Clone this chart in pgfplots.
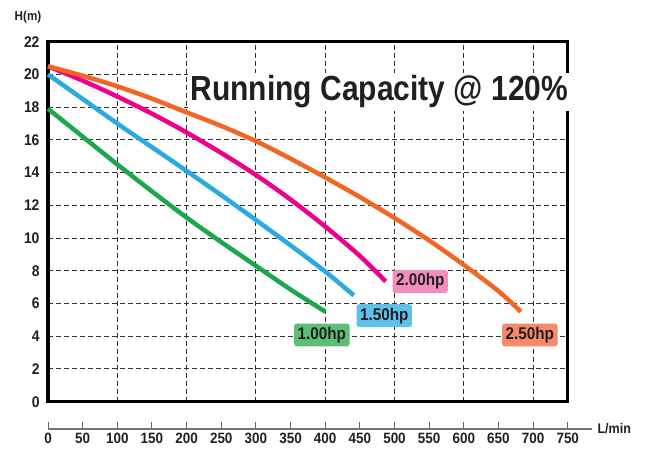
\documentclass[border=0pt]{standalone}
\usepackage{fontspec}
\usepackage{pgfplots}
\pgfplotsset{compat=1.18}
\newfontfamily\condT{Liberation Sans}[FakeStretch=0.86]
\newfontfamily\cond{Liberation Sans}[FakeStretch=0.9]
\newcommand{\cf}[1]{\cond\bfseries\fontsize{#1}{#1}\selectfont}
\newcommand{\tf}[1]{\condT\bfseries\fontsize{#1}{#1}\selectfont}

\definecolor{cgreen}{HTML}{1BA84A}
\definecolor{cblue}{HTML}{29ABE2}
\definecolor{cmag}{HTML}{EC008C}
\definecolor{corange}{HTML}{F26522}
\definecolor{lgreen}{HTML}{5DBE78}
\definecolor{lblue}{HTML}{5DC1EA}
\definecolor{lpink}{HTML}{F28DC0}
\definecolor{lorange}{HTML}{F6896A}
\definecolor{ink}{HTML}{231F20}

\begin{document}
\begin{tikzpicture}
\useasboundingbox (0,0) rectangle (648bp,455bp);

% main chart frame with grid
\begin{axis}[
  at={(48bp,53.3bp)}, anchor=south west,
  scale only axis, width=520bp, height=360bp,
  xmin=0, xmax=750, ymin=0, ymax=22,
  xtick={100,200,...,700}, xticklabels={},
  ytick={0,2,...,22},
  major tick length=0pt,
  grid=major,
  major grid style={dash pattern=on 5bp off 3bp, line width=1bp, color=black!80},
  axis line style={line width=3bp},
  /pgf/number format/assume math mode=true,
  yticklabel style={font=\cf{15.5}, text=ink, xshift=-5bp},
  clip=false,
]
\node[fill=white, inner xsep=3bp, inner ysep=3bp, font=\tf{35}, text=ink] at (axis cs:478,18.93) {Running Capacity @ 120\%};

% 1.00hp
\addplot[smooth, line width=4.5bp, color=cgreen] coordinates {
(0,17.9) (50,16.2) (100,14.5) (150,12.85) (200,11.25) (250,9.75) (300,8.3) (350,6.85) (400,5.5)
};
% 1.50hp
\addplot[smooth, line width=4.5bp, color=cblue] coordinates {
(0,20.0) (50,18.5) (100,17.0) (150,15.55) (200,14.1) (250,12.62) (300,11.1) (350,9.55) (400,7.95) (441,6.5)
};
% 2.00hp
\addplot[smooth, line width=4.5bp, color=cmag] coordinates {
(0,20.5) (50,19.62) (100,18.65) (150,17.6) (200,16.45) (250,15.2) (300,13.85) (350,12.35) (400,10.7) (450,8.9) (487,7.35)
};
% 2.50hp
\addplot[smooth, line width=4.5bp, color=corange] coordinates {
(0,20.5) (50,19.92) (100,19.27) (150,18.52) (200,17.68) (250,16.85) (300,15.92) (350,14.85) (400,13.7)
(450,12.5) (500,11.22) (550,9.85) (600,8.35) (650,6.75) (682,5.5)
};

\node[fill=lgreen, rounded corners=2.5bp, inner sep=3.5bp, font=\cf{17}, text=ink] at (axis cs:395,4.08) {1.00hp};
\node[fill=lblue, rounded corners=2.5bp, inner sep=3.5bp, font=\cf{17}, text=ink] at (axis cs:485,5.26) {1.50hp};
\node[fill=lpink, rounded corners=2.5bp, inner sep=3.5bp, font=\cf{17}, text=ink] at (axis cs:537,7.34) {2.00hp};
\node[fill=lorange, rounded corners=2.5bp, inner sep=3.5bp, font=\cf{17}, text=ink] at (axis cs:695,4.08) {2.50hp};
\end{axis}

% separate flow scale below the frame
\begin{axis}[
  at={(48bp,26bp)}, anchor=south west,
  scale only axis, width=544bp, height=1bp,
  xmin=0, xmax=785, ymin=0, ymax=1,
  axis x line=bottom, axis y line=none,
  axis line style={-, color=black!55, line width=1.3bp},
  xtick={0,50,...,750}, tick align=inside, major tick length=7bp,
  tick style={color=black!60, line width=1bp},
  /pgf/number format/assume math mode=true,
  xticklabel style={font=\cf{15}, text=ink, yshift=-1bp},
  clip=false,
]
\node[anchor=west, font=\cf{14}, text=ink, xshift=2bp] at (rel axis cs:1,0) {L/min};
\end{axis}

\node[font=\cf{13}, text=ink] at (28bp,438bp) {H(m)};
\end{tikzpicture}
\end{document}
